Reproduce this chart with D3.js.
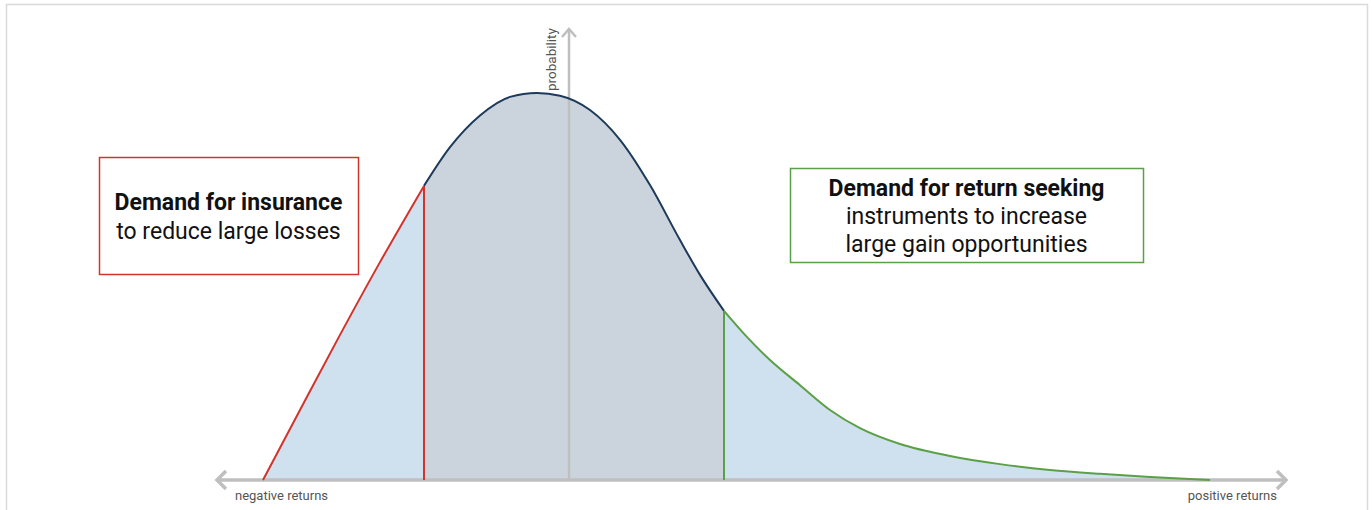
<!DOCTYPE html>
<html><head><meta charset="utf-8">
<script src="https://cdn.jsdelivr.net/npm/d3@7"></script>
<style>
html,body{margin:0;padding:0;background:#fff;}
svg{display:block;font-family:Roboto, "Open Sans", sans-serif;}
</style></head>
<body>
<svg id="chart" width="1372" height="510"></svg>
<script>
// Return (x) and probability density (p)
const returns = [-3.06,-2.69,-2.29,-1.89,-1.45,-1.19,-0.89,-0.59,-0.32,-0.09,0.21,0.51,0.81,1.11,1.31,1.55,1.76,2.01,2.31,2.61,2.91,3.31,3.81,4.31,4.81,5.31,5.81,6.41];
const probability = [0,0.181,0.375,0.563,0.760,0.860,0.942,0.990,1.0,0.993,0.956,0.879,0.762,0.620,0.530,0.437,0.375,0.310,0.245,0.181,0.134,0.093,0.062,0.041,0.026,0.016,0.008,0.0];
const lowerCut = -1.45;
const upperCut = 1.55;
const axisLabels = ["negative returns","positive returns","probability"];
const leftBox = ["Demand for insurance","to reduce large losses"];
const rightBox = ["Demand for return seeking","instruments to increase","large gain opportunities"];

const svg = d3.select("#chart");
const x = d3.scaleLinear().domain([-3.54, 7.19]).range([215, 1288]);
const y = d3.scaleLinear().domain([0, 1]).range([480, 93]);
const yTop = 1.168;

// frame
svg.append("path").attr("d","M6.5,512V4.5H1367.5V512").attr("fill","none").attr("stroke","#d9d9d9").attr("stroke-width",1.5);

const pts = returns.map((r,i)=>({x:r,p:probability[i]}));
const seg = (a,b)=>pts.filter(d=>d.x>=a-1e-9 && d.x<=b+1e-9);
const left = seg(-99, lowerCut), mid = seg(lowerCut, upperCut), right = seg(upperCut, 99);

const area = d3.area().x(d=>x(d.x)).y0(y(0)).y1(d=>y(d.p)).curve(d3.curveMonotoneX);
const line = d3.line().x(d=>x(d.x)).y(d=>y(d.p)).curve(d3.curveMonotoneX);

svg.append("path").datum(left).attr("d",area).attr("fill","#cfe0ef");
svg.append("path").datum(mid).attr("d",area).attr("fill","#cbd4dd");
svg.append("path").datum(right).attr("d",area).attr("fill","#cfe0ef");

// axes
const axCol = "#bfbfbf";
svg.append("line").attr("x1",x(-3.54)+2).attr("x2",x(7.19)-2).attr("y1",y(0)).attr("y2",y(0)).attr("stroke",axCol).attr("stroke-width",3.5);
svg.append("line").attr("x1",x(0)).attr("x2",x(0)).attr("y1",y(0)).attr("y2",y(yTop)+2).attr("stroke",axCol).attr("stroke-width",2.5);
const ax = x(-3.54), bx = x(7.19), ty = y(yTop), vx = x(0), by = y(0);
svg.append("path").attr("d",`M${ax+11},${by-9}L${ax+2},${by}L${ax+11},${by+9}`).attr("fill","none").attr("stroke",axCol).attr("stroke-width",3.5);
svg.append("path").attr("d",`M${bx-11},${by-9}L${bx-2},${by}L${bx-11},${by+9}`).attr("fill","none").attr("stroke",axCol).attr("stroke-width",3.5);
svg.append("path").attr("d",`M${vx-7},${ty+9}L${vx},${ty+1}L${vx+7},${ty+9}`).attr("fill","none").attr("stroke",axCol).attr("stroke-width",2.5);

// cut lines
const pAt = v => pts.find(d=>Math.abs(d.x-v)<1e-9).p;
svg.append("line").attr("x1",x(lowerCut)).attr("x2",x(lowerCut)).attr("y1",y(pAt(lowerCut))).attr("y2",y(0)).attr("stroke","#d2342c").attr("stroke-width",2);
svg.append("line").attr("x1",x(upperCut)).attr("x2",x(upperCut)).attr("y1",y(pAt(upperCut))).attr("y2",y(0)).attr("stroke","#5aa046").attr("stroke-width",2);

// curves
svg.append("path").datum(left).attr("d",line).attr("fill","none").attr("stroke","#d2342c").attr("stroke-width",2);
svg.append("path").datum(mid).attr("d",line).attr("fill","none").attr("stroke","#1d3a5c").attr("stroke-width",2);
svg.append("path").datum(right).attr("d",line).attr("fill","none").attr("stroke","#5aa046").attr("stroke-width",2);

// axis labels
svg.append("text").attr("x",235).attr("y",500).attr("font-size",13).attr("fill","#555").text(axisLabels[0]);
svg.append("text").attr("x",1277).attr("y",500).attr("text-anchor","end").attr("font-size",13).attr("fill","#555").text(axisLabels[1]);
svg.append("text").attr("transform",`translate(556,91) rotate(-90)`).attr("font-size",13.5).attr("fill","#555").text(axisLabels[2]);

// boxes
function box(x0,y0,w,h,col,lines,baselines){
  svg.append("rect").attr("x",x0+0.5).attr("y",y0+0.5).attr("width",w).attr("height",h).attr("fill","#fff").attr("stroke",col).attr("stroke-width",1.5);
  lines.forEach((t,i)=>{
    svg.append("text").attr("x",x0+w/2).attr("y",baselines[i]).attr("text-anchor","middle")
      .attr("font-size",23).attr("font-weight",i===0?"bold":"normal").attr("fill","#111").text(t);
  });
}
box(99,157,259,117,"#d2342c",leftBox,[210,239]);
box(790,168,353,94,"#5aa046",rightBox,[196,224,252]);
</script>
</body></html>
